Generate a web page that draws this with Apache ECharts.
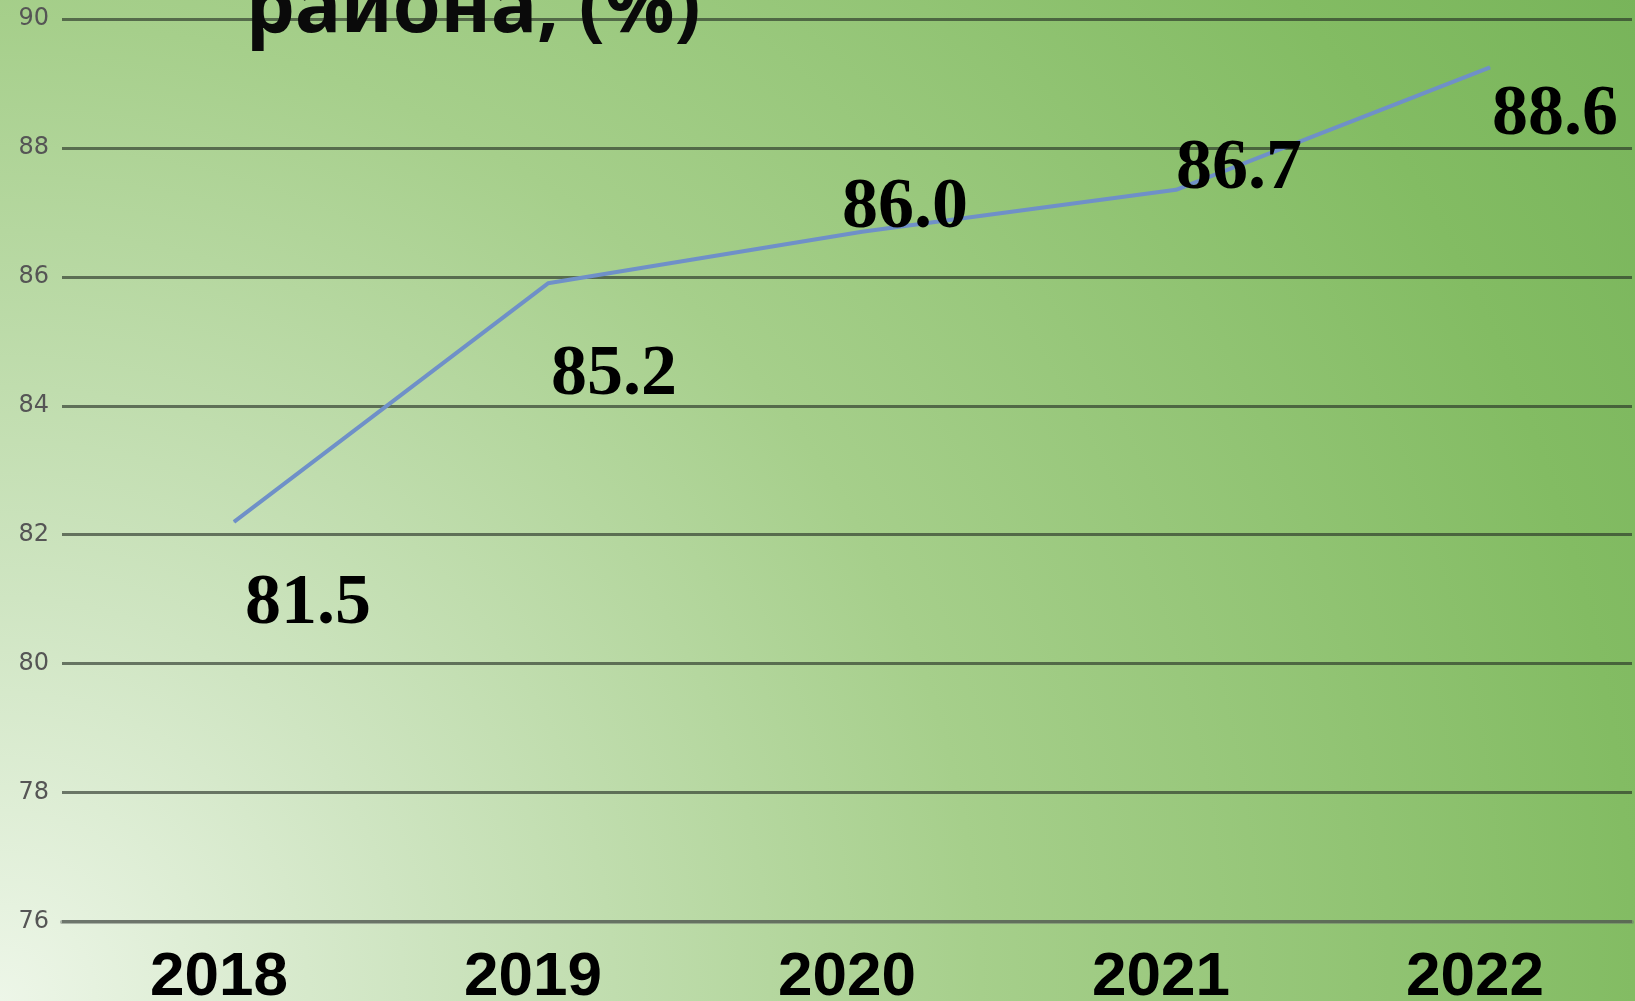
<!DOCTYPE html>
<html>
<head>
<meta charset="utf-8">
<script src="https://cdn.jsdelivr.net/npm/echarts@6/dist/echarts.min.js"></script>
<style>
  html, body { margin: 0; padding: 0; }
  #chart { width: 1635px; height: 1001px; }
</style>
</head>
<body>
<div id="chart"></div>
<script>
// values
const years = ['2018', '2019', '2020', '2021', '2022'];
const lineValues = [82.2, 85.9, 86.7, 87.35, 89.25];
const labelTexts = ['81.5', '85.2', '86.0', '86.7', '88.6'];
const titleText = 'района, (%)';

// where each number sits relative to its point
const labelOffsets = [[74, 83], [66, 92], [43, -23], [63, -20], [65, 48]];

const chart = echarts.init(document.getElementById('chart'));

const yBase = {
  min: 76,
  max: 90,
  interval: 2,
};

chart.setOption({
  backgroundColor: new echarts.graphic.RadialGradient(0, 1, 1.92, [
    { offset: 0, color: '#edf6e8' },
    { offset: 0.21, color: '#cfe5c2' },
    { offset: 0.51, color: '#a6cf8b' },
    { offset: 0.85, color: '#83bc63' },
    { offset: 1, color: '#78b45a' }
  ]),
  title: {
    text: titleText,
    left: 241,
    top: -33,
    textStyle: {
      fontFamily: 'Noto Sans',
      fontWeight: 'bold',
      fontSize: 77,
      color: '#0a0a0a'
    }
  },
  grid: [
    { left: 62, top: 19, width: 1570, height: 902.5, outerBoundsMode: 'none', containLabel: false },
    { left: 77, top: 19, width: 1570, height: 902.5, outerBoundsMode: 'none', containLabel: false }
  ],
  xAxis: [
    {
      type: 'category',
      gridIndex: 0,
      data: years,
      axisTick: { show: false },
      axisLine: {
        lineStyle: { color: 'rgba(110,115,110,0.5)', width: 4 }
      },
      axisLabel: {
        margin: 25,
        fontFamily: 'Liberation Sans',
        fontWeight: 'bold',
        fontSize: 62,
        color: '#000'
      }
    },
    {
      type: 'category',
      gridIndex: 1,
      data: years,
      show: false
    }
  ],
  yAxis: [
    {
      type: 'value',
      gridIndex: 0,
      ...yBase,
      axisLine: { show: false },
      axisTick: { show: false },
      axisLabel: {
        margin: 13,
        fontFamily: 'DejaVu Sans',
        fontSize: 24,
        color: '#555'
      },
      splitLine: {
        lineStyle: { color: 'rgba(35,45,35,0.62)', width: 3 }
      }
    },
    {
      type: 'value',
      gridIndex: 1,
      ...yBase,
      show: false
    }
  ],
  series: [
    {
      type: 'line',
      xAxisIndex: 1,
      yAxisIndex: 1,
      symbol: 'circle',
      symbolSize: 1,
      itemStyle: { color: '#6f90c8' },
      lineStyle: { color: '#6f90c8', width: 4 },
      data: lineValues.map((v, i) => ({
        value: v,
        label: {
          show: true,
          position: 'inside',
          offset: labelOffsets[i],
          formatter: labelTexts[i],
          fontFamily: 'Liberation Serif',
          fontWeight: 'bold',
          fontSize: 72,
          color: '#000'
        }
      }))
    }
  ]
});
</script>
</body>
</html>
